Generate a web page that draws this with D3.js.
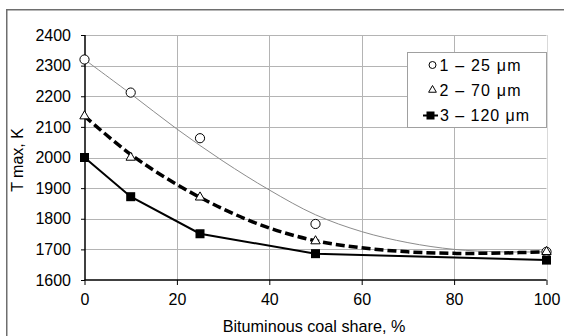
<!DOCTYPE html>
<html>
<head>
<meta charset="utf-8">
<script src="https://cdn.jsdelivr.net/npm/d3@7"></script>
<style>
  html, body { margin: 0; padding: 0; background: #fff; }
  svg { display: block; }
  text { font-family: "Liberation Sans", Arial, sans-serif; fill: #000; }
</style>
</head>
<body>
<svg id="chart" width="564" height="336"></svg>
<script>
// ---- data ----
const shares = [0, 10, 25, 50, 100];
const series1 = [2320, 2212, 2063, 1783, 1692]; // 1 – 25 μm (circles)
const series2 = [2135, 2000, 1870, 1727, 1692]; // 2 – 70 μm (triangles)
const series3 = [2000, 1872, 1751, 1686, 1665]; // 3 – 120 μm (squares)
// trend curves
const trendShares = [0, 10, 20, 30, 40, 50, 60, 70, 80, 90, 100];
const trend1 = [2320, 2208, 2093, 1988, 1894, 1813, 1758, 1722, 1700, 1692, 1692];
const trend2 = [2135, 2010, 1912, 1832, 1770, 1728, 1705, 1692, 1687, 1688, 1692];
const xTicks = [0, 20, 40, 60, 80, 100];
const yTicks = [1600, 1700, 1800, 1900, 2000, 2100, 2200, 2300, 2400];
const legendLabels = ["1 – 25 μm", "2 – 70 μm", "3 – 120 μm"];
const xTitle = "Bituminous coal share, %";
const yTitle = "T max, K";

const svg = d3.select("#chart");
const x = d3.scaleLinear().domain([0, 100]).range([84.5, 546.5]);
const y = d3.scaleLinear().domain([1600, 2400]).range([280, 35]);

// outer frame
svg.append("rect").attr("x", 6.75).attr("y", 9.75).attr("width", 600).attr("height", 400)
  .attr("fill", "none").attr("stroke", "#6e6e6e").attr("stroke-width", 1.5);

// gridlines
svg.append("g").selectAll("line").data(yTicks.slice(1)).join("line")
  .attr("x1", x(0)).attr("x2", x(100))
  .attr("y1", d => Math.round(y(d)) + 0.5).attr("y2", d => Math.round(y(d)) + 0.5)
  .attr("stroke", "#b4b4b4").attr("stroke-width", 1);
svg.append("g").selectAll("line").data(xTicks.slice(1)).join("line")
  .attr("x1", d => Math.round(x(d)) + 0.5).attr("x2", d => Math.round(x(d)) + 0.5)
  .attr("y1", y(2400)).attr("y2", y(1600))
  .attr("stroke", d => d === 100 ? "#d9d9d9" : "#b4b4b4").attr("stroke-width", 1);

// axes
const yAxis = d3.axisLeft(y).tickValues(yTicks).tickSize(4).tickPadding(10).tickFormat(d3.format("d"));
const xAxis = d3.axisBottom(x).tickValues(xTicks).tickSize(5).tickPadding(9).tickFormat(d3.format("d"));
const gy = svg.append("g").attr("transform", `translate(${Math.round(x(0))},0)`).call(yAxis);
const gx = svg.append("g").attr("transform", `translate(0,${Math.round(y(1600))})`).call(xAxis);
[gx, gy].forEach(g => {
  g.select(".domain").attr("stroke", "#000").attr("stroke-width", 1.5);
  g.selectAll(".tick line").attr("stroke", "#000").attr("stroke-width", 1);
  g.selectAll(".tick text").attr("font-size", 16).attr("font-family", "Liberation Sans, Arial, sans-serif").attr("fill", "#000");
});
gy.select(".domain").attr("d", `M0,${y(2400)}V${y(1600)}`);
gx.select(".domain").attr("d", `M${x(0)},0H${x(100)}`);

// axis titles
svg.append("text").attr("x", 314).attr("y", 332).attr("text-anchor", "middle")
  .attr("font-size", 16.2).text(xTitle);
svg.append("text").attr("transform", `translate(23,160) rotate(-90)`).attr("text-anchor", "middle")
  .attr("font-size", 16).text(yTitle);

// curves
const lineT = d3.line().x((d, i) => x(trendShares[i])).y(d => y(d)).curve(d3.curveCatmullRom);
svg.append("path").datum(trend1).attr("d", lineT)
  .attr("fill", "none").attr("stroke", "#8c8c8c").attr("stroke-width", 1);
svg.append("path").datum(trend2).attr("d", lineT)
  .attr("fill", "none").attr("stroke", "#000").attr("stroke-width", 3.5).attr("stroke-dasharray", "9,4");
const line3 = d3.line().x((d, i) => x(shares[i])).y(d => y(d));
svg.append("path").datum(series3).attr("d", line3)
  .attr("fill", "none").attr("stroke", "#000").attr("stroke-width", 2);

// markers
const tri = d3.symbol().type(d3.symbolTriangle).size(38);
svg.append("g").selectAll("circle").data(series1).join("circle")
  .attr("cx", (d, i) => x(shares[i])).attr("cy", d => y(d)).attr("r", 4.6)
  .attr("fill", "#fff").attr("stroke", "#000").attr("stroke-width", 1);
svg.append("g").selectAll("path").data(series2).join("path")
  .attr("d", tri).attr("transform", (d, i) => `translate(${x(shares[i])},${y(d)})`)
  .attr("fill", "#fff").attr("stroke", "#000").attr("stroke-width", 1);
svg.append("g").selectAll("rect").data(series3).join("rect")
  .attr("x", (d, i) => x(shares[i]) - 4.5).attr("y", d => y(d) - 4.5)
  .attr("width", 9).attr("height", 9).attr("fill", "#000");

// legend
const lg = svg.append("g");
lg.append("rect").attr("x", 407.5).attr("y", 52.5).attr("width", 139).attr("height", 75)
  .attr("fill", "#fff").attr("stroke", "#a0a0a0").attr("stroke-width", 1);
const ly = [65, 90, 115.5];
lg.append("circle").attr("cx", 432.5).attr("cy", ly[0]).attr("r", 3.5)
  .attr("fill", "#fff").attr("stroke", "#000").attr("stroke-width", 1);
lg.append("path").attr("d", d3.symbol().type(d3.symbolTriangle).size(26))
  .attr("transform", `translate(432.5,${ly[1]})`)
  .attr("fill", "#fff").attr("stroke", "#000").attr("stroke-width", 1);
lg.append("line").attr("x1", 423).attr("x2", 438).attr("y1", ly[2]).attr("y2", ly[2])
  .attr("stroke", "#000").attr("stroke-width", 2);
lg.append("rect").attr("x", 426.5).attr("y", ly[2] - 4).attr("width", 8).attr("height", 8).attr("fill", "#000");
const legendWidths = [81, 81, 89];
lg.selectAll("text").data(legendLabels).join("text")
  .attr("x", (d, i) => i === 2 ? 440 : 439.5).attr("y", (d, i) => ly[i] + 5.5)
  .attr("font-size", 16)
  .attr("textLength", (d, i) => legendWidths[i]).attr("lengthAdjust", "spacing")
  .text(d => d);
</script>
</body>
</html>
